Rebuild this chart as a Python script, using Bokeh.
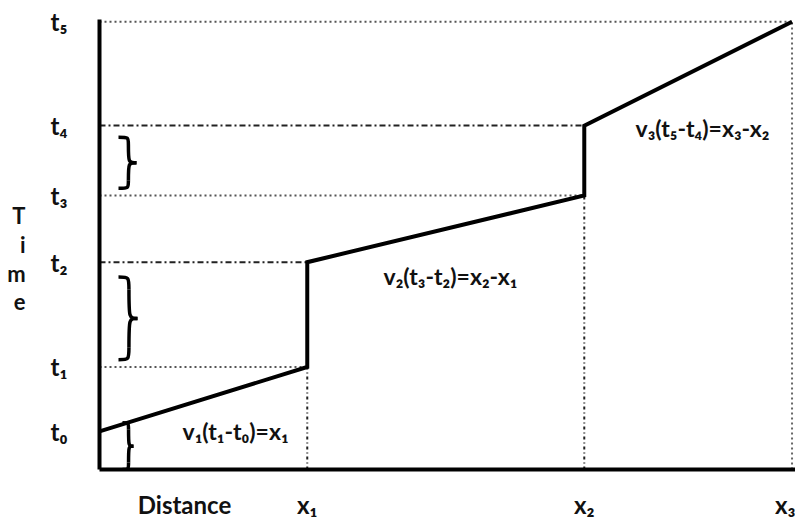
from bokeh.plotting import figure
from bokeh.models import Range1d, FixedTicker, Label
from bokeh.embed import file_html
from bokeh.resources import INLINE

# ---- data ----
x_names = ["x₁", "x₂", "x₃"]
x_vals = [3.0, 7.0, 10.0]
t_names = ["t₀", "t₁", "t₂", "t₃", "t₄", "t₅"]
t_vals = [0.85, 2.29, 4.63, 6.12, 7.68, 10.0]
eq_texts = ["v₁(t₁-t₀)=x₁", "v₂(t₃-t₂)=x₂-x₁", "v₃(t₅-t₄)=x₃-x₂"]
y_title = "\nT\ni\nm\ne"
x_title = "Distance"

x1, x2, x3 = x_vals
t0, t1, t2, t3, t4, t5 = t_vals

# path of the traveller (distance vs time)
path_x = [0.0, x1, x1, x2, x2, x3]
path_t = [t0, t1, t2, t3, t4, t5]

FONT = "Lato"
INK = "#111111"
PAD = 0.05

W, H = 795, 521
LEFT, TOP, BOTTOM = 99, 19, 51
p = figure(width=W, height=H,
           x_range=Range1d(0, x3 + PAD), y_range=Range1d(0, t5 + PAD),
           output_backend="svg", toolbar_location=None,
           min_border_left=LEFT, min_border_right=0,
           min_border_top=TOP, min_border_bottom=BOTTOM)
p.grid.visible = False
p.outline_line_color = None
p.background_fill_color = "white"

# scale helpers (reference pixel -> data) for annotation placement
XS = (W - LEFT) / (x3 + PAD)
YS = (H - TOP - BOTTOM) / (t5 + PAD)
def dx(X):
    return (X - LEFT) / XS
def dy(Y):
    return (H - BOTTOM - Y) / YS

# axes
for ax in (p.xaxis[0], p.yaxis[0]):
    ax.axis_line_width = 4
    ax.axis_line_color = "black"
    ax.major_tick_line_color = None
    ax.minor_tick_line_color = None
    ax.major_label_text_font = FONT
    ax.major_label_text_font_style = "bold"
    ax.major_label_text_font_size = "24px"
    ax.major_label_text_color = INK

# x axis: the "Distance" title sits in the tick-label row, left of x1
dist_pos = dx(184)
p.xaxis.ticker = FixedTicker(ticks=[dist_pos] + x_vals)
p.xaxis.major_label_overrides = {dist_pos: x_title, **{v: n for v, n in zip(x_vals, x_names)}}
p.xaxis.major_label_standoff = 14

p.yaxis.ticker = FixedTicker(ticks=t_vals)
p.yaxis.major_label_overrides = {v: n for v, n in zip(t_vals, t_names)}
p.yaxis.major_label_standoff = 26
p.yaxis.axis_label = y_title
p.yaxis.axis_label_orientation = "horizontal"
p.yaxis.axis_label_text_font = FONT
p.yaxis.axis_label_text_font_style = "bold"
p.yaxis.axis_label_text_font_size = "22px"
p.yaxis.axis_label_text_color = INK
p.yaxis.axis_label_text_line_height = 1.06
p.yaxis.axis_label_standoff = 22

# guide lines
DOT = "2 3"
DASHDOT = "6 3 2 3"
p.segment(x0=[0.0, 0.0, 0.0], y0=[t1, t3, t5], x1=[x1, x2, x3], y1=[t1, t3, t5],
          line_color="#555555", line_width=2, line_dash=DOT)
p.segment(x0=[0.0, 0.0], y0=[t2, t4], x1=[x1, x2], y1=[t2, t4],
          line_color="#222222", line_width=2, line_dash=DASHDOT)
p.segment(x0=[x1, x2], y0=[0.0, 0.0], x1=[x1, x2], y1=[t1, t3],
          line_color="#222222", line_width=2, line_dash="3 3 1 3")
p.segment(x0=[x3], y0=[0.0], x1=[x3], y1=[t5],
          line_color="#666666", line_width=2, line_dash=DOT)

# main path
p.line(path_x, path_t, line_color="black", line_width=4, line_join="miter")

# braces (right-pointing curly brackets)
def brace(xl, xr, yb, yt):
    xs = xl + (xr - xl) * 0.55
    ym = (yb + yt) / 2.0
    h = (yt - yb) / 2.0
    q_top = yt - h * 0.3
    q_bot = yb + h * 0.3
    return [
        (xl, yt, xs, q_top, xs, yt, xs, yt),
        (xs, q_top, xr, ym, xs, ym, xs, ym),
        (xr, ym, xs, q_bot, xs, ym, xs, ym),
        (xs, q_bot, xl, yb, xs, yb, xs, yb),
    ]

brace_specs = [
    (dx(122), dx(133), 0.0, t0 + (t1 - t0) * dx(127) / x1),
    (dx(118), dx(137), t1 + 0.16, t2 - 0.33),
    (dx(118), dx(136), t3 + 0.16, t4 - 0.26),
]
cols = [[] for _ in range(8)]
for spec in brace_specs:
    for s in brace(*spec):
        for c, v in zip(cols, s):
            c.append(v)
p.bezier(x0=cols[0], y0=cols[1], x1=cols[2], y1=cols[3],
         cx0=cols[4], cy0=cols[5], cx1=cols[6], cy1=cols[7],
         line_color="black", line_width=3.5)

# equation labels
eq_pos = [(dx(182), dy(431)), (dx(383), dy(276)), (dx(635), dy(128))]
for txt, (lx, ly) in zip(eq_texts, eq_pos):
    p.add_layout(Label(x=lx, y=ly, text=txt, text_font=FONT, text_font_style="bold",
                       text_font_size="23px", text_color=INK,
                       text_align="left", text_baseline="middle"))

open("out.html", "w").write(file_html(p, INLINE))
